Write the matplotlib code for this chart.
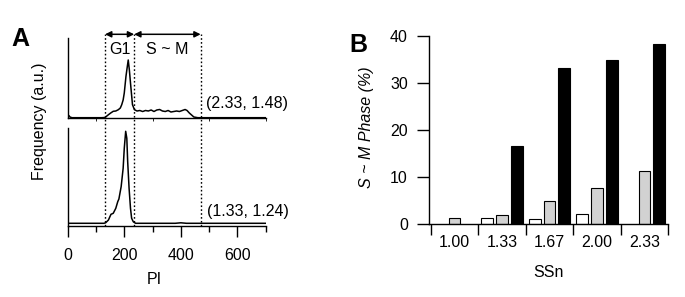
import numpy as np
import matplotlib
matplotlib.use("Agg")
import matplotlib.pyplot as plt
import matplotlib.transforms as mtransforms

plt.rcParams["font.family"] = ["Liberation Sans", "DejaVu Sans"]
plt.rcParams["font.size"] = 11.5

# panel A: flow cytometry histograms (PI, frequency in a.u.)
top_pi = [0, 4, 8, 15, 60, 120, 132, 144, 152, 161, 170, 179, 186, 191, 196, 200,
          206, 210, 214, 218, 222, 229, 236, 245, 255, 265, 275, 285, 295, 305, 315,
          325, 335, 345, 355, 365, 375, 385, 395, 405, 415, 422, 430, 438, 446, 460,
          500, 600, 700]
top_freq = [0.5, 2.5, 1, 0.3, 0.3, 0.3, 0.5, 3.3, 5, 6.7, 7, 8.3, 10, 13.3, 18, 25,
            41.7, 50, 58, 48, 35, 13.3, 8.3, 7, 7.5, 6.5, 7.5, 7, 8, 6.5, 8,
            8.5, 7, 6.5, 7.5, 6, 6.5, 7, 6.5, 7.5, 8.5, 7.5, 5, 3, 1, 0.3,
            0.3, 0.3, 0.3]
bot_pi = [0, 50, 100, 128, 134, 144, 153, 161, 170, 177, 181, 189, 196, 200, 205,
          209, 212, 217, 222, 226, 232, 240, 300, 380, 400, 420, 450, 700]
bot_freq = [0, 0, 0, 0, 0.5, 3.3, 9, 10, 15, 21.7, 24.3, 36.7, 55, 75, 92,
            85, 62, 35, 15, 5, 1.5, 0, 0, 0, 0.5, 0, 0, 0]
gates = [132, 235, 470]
top_tag = "(2.33, 1.48)"
bot_tag = "(1.33, 1.24)"

# panel B: S~M phase fraction per SSn
ssn = ["1.00", "1.33", "1.67", "2.00", "2.33"]
white_vals = [0, 1.2, 0.9, 2.1, 0]
gray_vals = [1.2, 1.9, 4.85, 7.5, 11.2]
black_vals = [0, 16.5, 33.2, 34.8, 38.4]

W, H = 685, 297
fig = plt.figure(figsize=(W / 100, H / 100), dpi=100)


def box(x0, y0, x1, y1):
    # pixel box (top-left origin) -> figure fraction rect
    return [x0 / W, 1 - y1 / H, (x1 - x0) / W, (y1 - y0) / H]


lw = 1.0

# ---- panel A
ax_top = fig.add_axes(box(67.7, 38, 265.7, 118))
ax_bot = fig.add_axes(box(67.7, 128.3, 265.7, 225.7), sharex=ax_top)

ax_top.plot(top_pi, top_freq, color="black", lw=1.1)
ax_bot.plot(bot_pi, bot_freq, color="black", lw=1.1)
ax_top.set_ylim(0, 80)
ax_bot.set_ylim(-2.4, 95)
ax_bot.set_xlim(0, 700)

for ax in (ax_top, ax_bot):
    for s in ("top", "right"):
        ax.spines[s].set_visible(False)
    for s in ("left", "bottom"):
        ax.spines[s].set_linewidth(lw)
    ax.set_yticks([])
ax_top.tick_params(axis="x", bottom=False, labelbottom=False)
ax_bot.set_xticks([0, 200, 400, 600])
ax_bot.set_xticks([100, 300, 500, 700], minor=True)
ax_bot.tick_params(axis="x", which="major", length=8, width=lw, pad=8)
ax_bot.tick_params(axis="x", which="minor", length=4.3, width=lw)

trans = mtransforms.blended_transform_factory(ax_bot.transData, fig.transFigure)
y_arrow = 1 - 34.3 / H
y_floor = 1 - 225.7 / H
for g in gates:
    ax_bot.plot([g, g], [y_floor, y_arrow], transform=trans, clip_on=False,
                color="black", lw=1.0, ls=(0, (1.2, 1.6)))
for a, b, lab in [(gates[0], gates[1], "G1"), (gates[1], gates[2], "S ~ M")]:
    ax_bot.annotate("", xy=(a, y_arrow), xytext=(b, y_arrow), xycoords=trans,
                    textcoords=trans,
                    arrowprops=dict(arrowstyle="<|-|>", color="black", lw=1.1,
                                    shrinkA=0, shrinkB=0, mutation_scale=9))
    ax_bot.text((a + b) / 2, 1 - 49.5 / H, lab, transform=trans,
                ha="center", va="center")

fig.text(205.7 / W, 1 - 103.3 / H, top_tag, ha="left", va="center")
fig.text(207.3 / W, 1 - 211.7 / H, bot_tag, ha="left", va="center")
fig.text(39.5 / W, 1 - 121.7 / H, "Frequency (a.u.)", rotation=90,
         ha="center", va="center")
fig.text(154.7 / W, 1 - 279 / H, "PI", ha="center", va="center")
fig.text(20 / W, 1 - 39 / H, "A", fontsize=18, fontweight="bold",
         ha="center", va="center")

# ---- panel B
axb = fig.add_axes(box(429.3, 36, 668.3, 223.5))
x = np.arange(len(ssn))
bw = 0.25
for vals, off, fc in [(white_vals, -0.31, "white"), (gray_vals, 0.0, "#d2d2d2"),
                      (black_vals, 0.31, "black")]:
    vals = np.array(vals, dtype=float)
    keep = vals > 0
    axb.bar(x[keep] + off, vals[keep], width=bw, color=fc,
            edgecolor="black", linewidth=0.8)

axb.set_xlim(-0.53, 4.5)
axb.set_ylim(0, 40)
for s in ("top", "right"):
    axb.spines[s].set_visible(False)
for s in ("left", "bottom"):
    axb.spines[s].set_linewidth(lw)
axb.set_yticks([0, 10, 20, 30, 40])
axb.tick_params(axis="y", length=8.5, width=lw, pad=7)
axb.set_xticks(np.arange(len(ssn) + 1) - 0.5)
axb.set_xticklabels([])
axb.set_xticks(x, minor=True)
axb.set_xticklabels(ssn, minor=True)
axb.tick_params(axis="x", which="major", length=8, width=lw)
axb.tick_params(axis="x", which="minor", length=0, pad=8)

fig.text(366.7 / W, 1 - 127.5 / H, "S ~ M Phase (%)", rotation=90,
         style="italic", ha="center", va="center")
fig.text(548 / W, 1 - 272.5 / H, "SSn", ha="center", va="center")
fig.text(358 / W, 1 - 45.5 / H, "B", fontsize=18, fontweight="bold",
         ha="center", va="center")

fig.savefig("out.png", dpi=100)
